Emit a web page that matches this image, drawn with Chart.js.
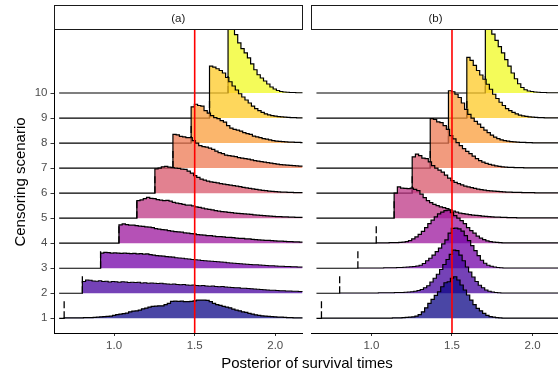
<!DOCTYPE html>
<html><head><meta charset="utf-8">
<script src="https://cdn.jsdelivr.net/npm/chart.js@4.4.0/dist/chart.umd.min.js"></script>
<style>
html,body{margin:0;padding:0;background:#fff;overflow:hidden;width:558px;height:375px;position:relative;font-family:"Liberation Sans",Arial,sans-serif}
#ca{position:absolute;left:0;top:0}
#cb{position:absolute;left:307px;top:0}
#xt{position:absolute;left:0;width:614px;top:354px;height:18px;line-height:18px;text-align:center;font-size:15px;color:#000;white-space:nowrap}
#yt{position:absolute;left:-80.5px;top:172.5px;width:200px;height:18px;line-height:18px;text-align:center;font-size:15px;color:#000;transform:rotate(-90deg);white-space:nowrap}
</style></head>
<body>
<canvas id="ca" width="306" height="375"></canvas>
<canvas id="cb" width="253" height="375"></canvas>
<div id="xt">Posterior of survival times</div>
<div id="yt">Censoring scenario</div>
<script>
const scenarios = [1,2,3,4,5,6,7,8,9,10];
const yTickLabels = ['1','2','3','4','5','6','7','8','9','10'];
const xTicks = [1.0, 1.5, 2.0];
const xTickLabels = ['1.0','1.5','2.0'];
const censorPoints = [0.69, 0.803, 0.916, 1.03, 1.141, 1.253, 1.365, 1.478, 1.592, 1.707];
const binWidth = 0.02;
const lineStart = 0.659;
const trueValue = 1.5;
const panelTitles = ['(a)', '(b)'];

// Panel (a) histogram heights (per bin, starting at censoring point)
const a1 = [0.02,0.02,0.02,0.02,0.02,0.02,0.03,0.03,0.03,0.04,0.05,0.06,0.07,0.08,0.09,0.12,0.15,0.17,0.19,0.21,0.26,0.29,0.3,0.33,0.38,0.41,0.45,0.48,0.49,0.5,0.5,0.55,0.6,0.68,0.69,0.68,0.69,0.67,0.67,0.68,0.7,0.73,0.73,0.73,0.72,0.67,0.6,0.55,0.52,0.48,0.45,0.42,0.37,0.33,0.3,0.26,0.24,0.2,0.17,0.14,0.12,0.1,0.09,0.08,0.07,0.06,0.05,0.05,0.04,0.03,0.03,0.02,0.02,0.02];
const a2 = [0.47,0.53,0.52,0.49,0.48,0.5,0.47,0.48,0.45,0.47,0.46,0.44,0.46,0.45,0.43,0.44,0.43,0.44,0.41,0.42,0.4,0.41,0.4,0.39,0.4,0.38,0.37,0.36,0.37,0.35,0.34,0.35,0.33,0.32,0.33,0.31,0.3,0.31,0.29,0.28,0.29,0.27,0.26,0.27,0.25,0.24,0.23,0.22,0.22,0.2,0.2,0.19,0.18,0.17,0.16,0.15,0.14,0.13,0.12,0.12,0.11,0.1,0.1,0.09,0.09,0.08,0.08,0.07,0.07];
const a3 = [0.6,0.63,0.62,0.6,0.61,0.6,0.59,0.6,0.59,0.58,0.59,0.57,0.58,0.56,0.57,0.54,0.52,0.5,0.49,0.48,0.46,0.45,0.44,0.42,0.41,0.4,0.38,0.37,0.35,0.34,0.33,0.31,0.3,0.29,0.28,0.27,0.26,0.25,0.24,0.22,0.21,0.2,0.19,0.18,0.17,0.16,0.15,0.14,0.14,0.13,0.12,0.11,0.1,0.1,0.09,0.08,0.08,0.07,0.07,0.06,0.06,0.05,0.05];
const a4 = [0.73,0.77,0.74,0.72,0.72,0.7,0.68,0.67,0.65,0.64,0.62,0.58,0.56,0.54,0.53,0.5,0.48,0.46,0.45,0.44,0.41,0.4,0.38,0.37,0.34,0.33,0.32,0.3,0.3,0.28,0.26,0.26,0.25,0.23,0.23,0.22,0.2,0.19,0.19,0.17,0.17,0.15,0.14,0.13,0.12,0.11,0.11,0.1,0.09,0.08,0.08,0.07,0.06,0.06,0.05,0.05,0.04];
const a5 = [0.7,0.73,0.78,0.83,0.79,0.78,0.74,0.72,0.7,0.71,0.68,0.63,0.6,0.58,0.55,0.52,0.52,0.49,0.45,0.43,0.4,0.37,0.35,0.33,0.3,0.28,0.26,0.25,0.23,0.22,0.2,0.19,0.18,0.17,0.16,0.15,0.13,0.12,0.11,0.1,0.09,0.08,0.07,0.06,0.06,0.05,0.05,0.04,0.04,0.03,0.03,0.03];
const a6 = [0.97,1.0,1.05,1.07,1.04,1.02,1.0,0.99,0.96,0.95,0.88,0.8,0.7,0.63,0.56,0.52,0.48,0.45,0.43,0.41,0.38,0.36,0.34,0.32,0.3,0.28,0.26,0.23,0.21,0.19,0.17,0.15,0.13,0.11,0.1,0.08,0.07,0.06,0.05,0.04,0.04,0.03,0.03,0.02,0.02,0.02];
const a7 = [1.35,1.33,1.27,1.25,1.22,1.22,1.1,1.0,0.9,0.86,0.84,0.8,0.75,0.68,0.62,0.58,0.52,0.5,0.48,0.46,0.42,0.4,0.38,0.36,0.33,0.3,0.28,0.26,0.24,0.22,0.2,0.18,0.16,0.14,0.13,0.12,0.11,0.1,0.09,0.08];
const a8 = [1.45,1.55,1.5,1.48,1.3,1.2,1.1,1.02,0.98,0.9,0.84,0.7,0.6,0.55,0.52,0.48,0.42,0.38,0.35,0.28,0.25,0.22,0.18,0.16,0.13,0.1,0.08,0.07,0.06,0.05,0.04,0.04,0.03,0.03,0.02];
const a9 = [2.07,2.03,1.97,1.9,1.8,1.62,1.45,1.28,1.12,0.97,0.84,0.72,0.6,0.48,0.38,0.3,0.23,0.17,0.13,0.1,0.08,0.06,0.05,0.04,0.03,0.02,0.02,0.01,0.01];
const a10 = [2.6,2.55,2.33,2.0,1.77,1.6,1.4,1.16,0.93,0.73,0.6,0.48,0.36,0.24,0.16,0.1,0.06,0.04,0.03,0.02,0.02,0.01,0.01,0.01];

// Panel (b) histogram heights
const b1 = [0.01,0.01,0.01,0.01,0.01,0.01,0.01,0.01,0.01,0.01,0.01,0.01,0.01,0.01,0.01,0.01,0.01,0.01,0.01,0.01,0.01,0.01,0.02,0.02,0.02,0.03,0.04,0.05,0.06,0.09,0.15,0.26,0.42,0.6,0.76,0.92,1.06,1.26,1.42,1.46,1.6,1.66,1.53,1.33,1.13,0.93,0.73,0.55,0.4,0.3,0.2,0.12,0.07,0.05,0.03,0.02,0.01,0.01,0.01,0.01,0.01,0.01,0.01,0.01,0.01,0.01,0.01,0.01,0.01,0.01,0.01,0.01,0.01,0.01];
const b2 = [0.01,0.01,0.01,0.01,0.01,0.01,0.01,0.01,0.01,0.01,0.01,0.01,0.02,0.02,0.02,0.02,0.02,0.03,0.03,0.03,0.04,0.05,0.06,0.08,0.11,0.15,0.22,0.3,0.45,0.6,0.76,0.95,1.15,1.35,1.55,1.72,1.7,1.52,1.3,1.05,0.85,0.65,0.47,0.32,0.22,0.13,0.08,0.05,0.03,0.02,0.01,0.01,0.01,0.01,0.01,0.01,0.01,0.01,0.01,0.01,0.01,0.01,0.01,0.01,0.01,0.01,0.01,0.01,0.01];
const b3 = [0.01,0.01,0.01,0.01,0.01,0.01,0.01,0.01,0.02,0.02,0.02,0.02,0.03,0.03,0.04,0.05,0.06,0.07,0.09,0.12,0.19,0.3,0.4,0.52,0.66,0.8,0.97,1.13,1.4,1.59,1.6,1.57,1.48,1.3,1.1,0.9,0.7,0.5,0.32,0.2,0.12,0.08,0.05,0.03,0.02,0.01,0.01,0.01,0.01,0.01,0.01,0.01,0.01,0.01,0.01,0.01,0.01,0.01,0.01,0.01,0.01,0.01,0.01];
const b4 = [0.01,0.01,0.01,0.01,0.02,0.02,0.02,0.03,0.04,0.06,0.1,0.17,0.25,0.35,0.47,0.62,0.78,0.92,1.05,1.17,1.24,1.3,1.32,1.22,1.1,1.0,0.9,0.78,0.62,0.5,0.4,0.28,0.2,0.14,0.09,0.06,0.04,0.03,0.02,0.01,0.01,0.01,0.01,0.01,0.01,0.01,0.01,0.01,0.01,0.01,0.01,0.01,0.01,0.01,0.01,0.01,0.01];
const b5 = [1.0,1.25,1.2,1.19,1.18,1.2,1.15,1.1,0.96,0.82,0.7,0.62,0.55,0.5,0.45,0.42,0.38,0.33,0.28,0.24,0.2,0.18,0.16,0.14,0.12,0.11,0.1,0.08,0.07,0.06,0.05,0.04,0.04,0.03,0.03,0.02,0.02,0.02,0.01,0.01,0.01,0.01,0.01,0.01,0.01,0.01,0.01,0.01,0.01,0.01,0.01,0.01];
const b6 = [1.45,1.56,1.5,1.4,1.38,1.25,1.1,1.0,0.92,0.84,0.72,0.6,0.5,0.43,0.38,0.33,0.28,0.25,0.22,0.19,0.16,0.14,0.12,0.1,0.09,0.08,0.07,0.06,0.05,0.04,0.04,0.03,0.03,0.03,0.02,0.02,0.02,0.02,0.01,0.01,0.01,0.01,0.01,0.01,0.01,0.01];
const b7 = [1.98,1.95,1.85,1.82,1.7,1.55,1.3,1.17,1.02,0.9,0.78,0.67,0.58,0.48,0.38,0.3,0.24,0.19,0.15,0.12,0.09,0.07,0.05,0.04,0.03,0.03,0.02,0.02,0.02,0.01,0.01,0.01,0.01,0.01,0.01,0.01,0.01,0.01,0.01,0.01];
const b8 = [2.09,2.05,1.95,1.82,1.6,1.35,1.15,1.0,0.87,0.76,0.63,0.52,0.42,0.32,0.24,0.18,0.13,0.1,0.08,0.06,0.05,0.04,0.03,0.03,0.02,0.02,0.01,0.01,0.01,0.01,0.01,0.01,0.01,0.01,0.01];
const b9 = [2.42,2.3,2.1,1.9,1.72,1.55,1.35,1.15,0.95,0.78,0.63,0.5,0.38,0.3,0.23,0.17,0.12,0.09,0.07,0.05,0.04,0.03,0.02,0.02,0.01,0.01,0.01,0.01,0.01];
const b10 = [2.6,2.6,2.35,2.1,1.85,1.6,1.33,1.07,0.8,0.57,0.37,0.22,0.13,0.08,0.06,0.04,0.03,0.02,0.02,0.01,0.01,0.01,0.01,0.01];

const panelA = [a1,a2,a3,a4,a5,a6,a7,a8,a9,a10];
const panelB = [b1,b2,b3,b4,b5,b6,b7,b8,b9,b10];

const plasma = ['#0D0887','#47039F','#7301A8','#9C179E','#BD3786','#D8576B','#ED7953','#FA9E3B','#FDC926','#F0F921'];
function rgba(hex, a){const n=parseInt(hex.slice(1),16);return `rgba(${n>>16},${(n>>8)&255},${n&255},${a})`;}
const fillColors = plasma.map(c => rgba(c, 0.75));
const markHeight = 0.72;

Chart.defaults.font.family = '"Liberation Sans", Arial, sans-serif';

function buildDatasets(series){
  const ds = [];
  series.forEach((h, i) => {
    const lvl = scenarios[i], c = censorPoints[i];
    const pts = [{x: lineStart, y: lvl}];
    h.forEach((v, j) => pts.push({x: c + j*binWidth, y: lvl + v}));
    pts.push({x: 2.5, y: lvl + h[h.length-1]});
    ds.push({data: pts, stepped: 'before', borderColor: '#000', borderWidth: 1.2,
      backgroundColor: fillColors[i], fill: {value: lvl}, pointRadius: 0, order: 2*lvl});
    ds.push({data: [{x: c, y: lvl}, {x: c, y: lvl + markHeight}], borderColor: '#000', borderWidth: 1.3,
      borderDash: [7,3], fill: false, pointRadius: 0, order: 2*lvl - 1});
  });
  ds.push({data: [{x: trueValue, y: 0}, {x: trueValue, y: 13}], borderColor: '#FF0000', borderWidth: 1.6,
    fill: false, pointRadius: 0, order: -1});
  return ds;
}

const stripPlugin = {
  id: 'strip',
  afterDraw(chart, args, opts){
    const ctx = chart.ctx, a = chart.chartArea;
    ctx.save();
    const x0 = Math.round(a.left) + 0.5, x1 = Math.round(a.right) - 0.5;
    ctx.fillStyle = '#fff';
    ctx.fillRect(x0, 5.5, x1 - x0, 24);
    ctx.strokeStyle = '#1a1a1a'; ctx.lineWidth = 1;
    ctx.strokeRect(x0, 5.5, x1 - x0, 24);
    ctx.fillStyle = '#1a1a1a';
    ctx.font = '11.5px "Liberation Sans", Arial, sans-serif';
    ctx.textAlign = 'center'; ctx.textBaseline = 'middle';
    ctx.fillText(opts.text, (a.left + a.right)/2, 18.5);
    ctx.restore();
  }
};

function makeChart(id, series, title, showY, pad){
  return new Chart(document.getElementById(id), {
    type: 'line',
    data: {datasets: buildDatasets(series)},
    options: {
      responsive: false, animation: false,
      layout: {padding: pad},
      plugins: {legend: {display: false}, tooltip: {enabled: false}, strip: {text: title}},
      scales: {
        x: {type: 'linear', min: 0.627, max: 2.169,
          afterBuildTicks: s => { s.ticks = xTicks.map(v => ({value: v})); },
          afterFit: s => { s.height = 42; },
          ticks: {callback: (v, i) => xTickLabels[i], color: '#4D4D4D', font: {size: 11.5}, padding: 2.5, maxRotation: 0, autoSkip: false},
          grid: {drawOnChartArea: false, drawTicks: true, tickLength: 3, color: '#333', tickWidth: 1},
          border: {display: true, color: '#000', width: 1}
        },
        y: {type: 'linear', min: 0.413, max: 12.517, display: showY,
          afterBuildTicks: s => { s.ticks = scenarios.map(v => ({value: v})); },
          afterFit: s => { s.width = showY ? 54 : 0; },
          ticks: {callback: (v, i) => yTickLabels[i], color: '#4D4D4D', font: {size: 11.5}, padding: 3, autoSkip: false},
          grid: {drawOnChartArea: false, drawTicks: true, tickLength: 3.5, color: '#333', tickWidth: 1},
          border: {display: true, color: '#000', width: 1}
        }
      }
    },
    plugins: [stripPlugin]
  });
}

makeChart('ca', panelA, panelTitles[0], true, {left: 0, right: 3.5, top: 30, bottom: 0});
makeChart('cb', panelB, panelTitles[1], false, {left: 4.3, right: 0.2, top: 30, bottom: 0});
</script>
</body></html>
